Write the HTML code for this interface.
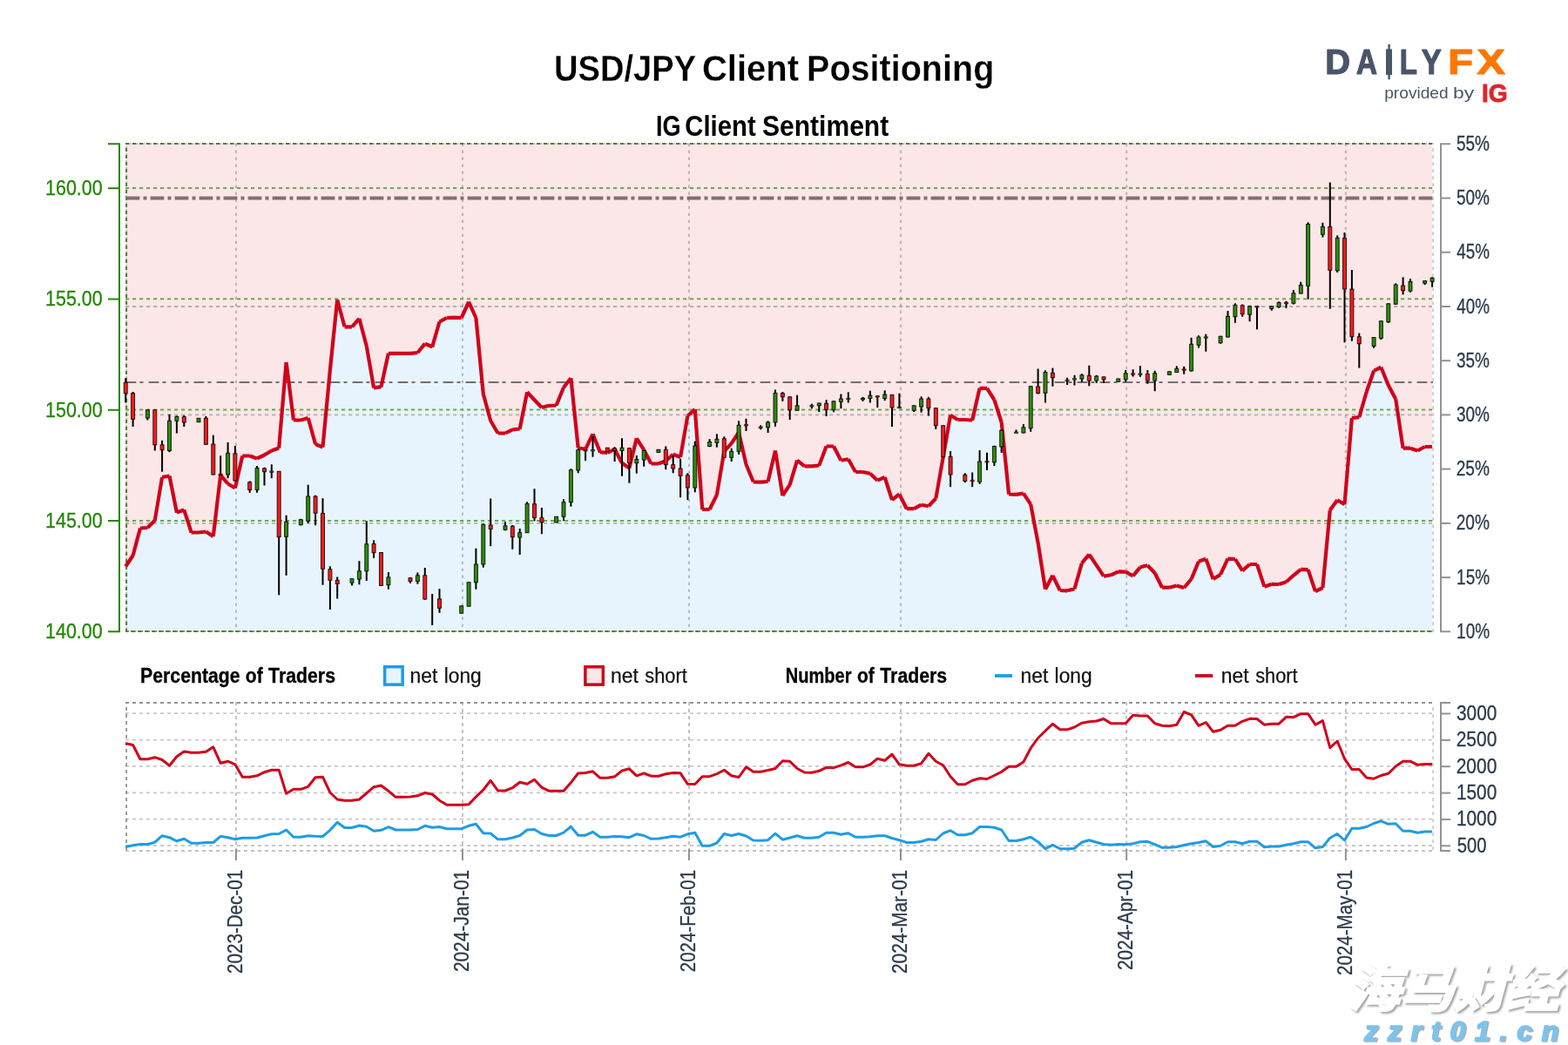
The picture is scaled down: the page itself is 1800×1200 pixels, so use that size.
<!DOCTYPE html>
<html lang="en"><head><meta charset="utf-8"><title>USD/JPY Client Positioning</title>
<style>html,body{margin:0;padding:0;background:#fff}body{width:1800px;height:1200px;overflow:hidden}svg{display:block}text{font-family:'Liberation Sans', sans-serif}.wm text{font-family:'Liberation Sans','Noto Sans CJK SC',sans-serif}</style></head><body>
<svg width="1800" height="1200" viewBox="0 0 1800 1200">
<rect width="1800" height="1200" fill="#fff"/>
<text y="92.6" font-size="43.1" font-weight="bold" fill="#000" stroke="#fff" stroke-width="0.3"><tspan x="636" textLength="162.4" lengthAdjust="spacingAndGlyphs">USD/JPY</tspan> <tspan x="805.9" textLength="111.1" lengthAdjust="spacingAndGlyphs">Client</tspan> <tspan x="926.1" textLength="215.2" lengthAdjust="spacingAndGlyphs">Positioning</tspan></text>
<text y="155.5" font-size="32.8" font-weight="bold" fill="#000"><tspan x="752.9" textLength="28.6" lengthAdjust="spacingAndGlyphs">IG</tspan> <tspan x="786.3" textLength="81.4" lengthAdjust="spacingAndGlyphs">Client</tspan> <tspan x="875" textLength="145.2" lengthAdjust="spacingAndGlyphs">Sentiment</tspan></text>
<text y="85.3" font-size="40" font-weight="bold" fill="#4a5568" stroke="#4a5568" stroke-width="1.2" stroke-linejoin="round"><tspan x="1521.3" textLength="28.8" lengthAdjust="spacingAndGlyphs">D</tspan><tspan x="1556.9" textLength="24" lengthAdjust="spacingAndGlyphs">A</tspan><tspan x="1589" textLength="11.1" lengthAdjust="spacingAndGlyphs">I</tspan><tspan x="1606.8" textLength="20.2" lengthAdjust="spacingAndGlyphs">L</tspan><tspan x="1631.8" textLength="23" lengthAdjust="spacingAndGlyphs">Y</tspan><tspan x="1662.2" textLength="28.9" lengthAdjust="spacingAndGlyphs" fill="#ff7700" stroke="#ff7700">F</tspan><tspan x="1695.4" textLength="32.4" lengthAdjust="spacingAndGlyphs" fill="#ff7700" stroke="#ff7700">X</tspan></text>
<rect x="1593.4" y="50.8" width="2.4" height="40.5" fill="#4a5568"/>
<rect x="1591.2" y="56.8" width="6.8" height="29.1" fill="#4a5568"/>
<text y="113" font-size="19" font-weight="normal" fill="#4a5568"><tspan x="1589.2" textLength="73.5" lengthAdjust="spacingAndGlyphs">provided</tspan> <tspan x="1668.1" textLength="24.2" lengthAdjust="spacingAndGlyphs">by</tspan></text>
<text x="1700.9" y="117" font-size="29.5" font-weight="bold" fill="#e0242b" textLength="29.8" lengthAdjust="spacingAndGlyphs" stroke="#e0242b" stroke-width="0.8">IG</text>
<defs><clipPath id="cp"><rect x="144.2" y="164.2" width="1500.0" height="560.8"/></clipPath></defs>
<rect x="144.2" y="164.2" width="1500.0" height="560.8" fill="#fbe6e8"/>
<polygon clip-path="url(#cp)" fill="#e8f4fd" points="142.2,725 144.2,650.5 152.6,638 161,606.5 169.4,606 177.8,597.5 186.1,548 194.5,546.5 202.9,588.5 211.3,585.5 219.7,611.5 228,611.5 236.4,610.5 244.8,616 253.2,545.5 261.6,555.5 269.9,560.5 278.3,523.5 286.7,523.5 295.1,526.5 303.5,522.5 311.8,517.5 320.2,514.5 328.6,416 337,482.5 345.3,482.5 353.7,480 362.1,510 370.5,513.5 378.9,425 387.2,344.2 395.6,375.3 404,375.3 412.4,365.8 420.8,397.5 429.1,445.3 437.5,444.2 445.9,405.8 454.3,405.8 462.7,405.8 471,405.8 479.4,405 487.8,394.7 496.2,398.3 504.5,369.5 512.9,365 521.3,364.7 529.7,365 538.1,346.7 546.4,365 554.8,452.5 563.2,483.3 571.6,497.5 580,497.5 588.3,493.3 596.7,492.5 605.1,450.3 613.5,459.2 621.9,468 630.2,465.8 638.6,465.5 647,445 655.4,434.2 663.7,514.2 672.1,515.8 680.5,498.3 688.9,519.2 697.3,520 705.6,515.8 714,531.7 722.4,537.5 730.8,503.3 739.2,516.7 747.5,532.5 755.9,532.5 764.3,529.2 772.7,521.7 781.1,525 789.4,477.5 797.8,470 806.2,585 814.6,585 822.9,568.3 831.3,518.3 839.7,509.2 848.1,496.5 856.5,533.3 864.8,553.3 873.2,553.7 881.6,553 890,517.5 898.4,569.2 906.7,556.7 915.1,528.7 923.5,535.3 931.9,535.3 940.3,534.5 948.6,512.5 957,512.5 965.4,528.7 973.8,527.2 982.1,542 990.5,542 998.9,543.7 1007.3,551.7 1015.7,548 1024,574.2 1032.4,567.5 1040.8,584.2 1049.2,584.2 1057.6,579.7 1065.9,581.3 1074.3,572.5 1082.7,525 1091.1,476.7 1099.5,482 1107.8,482 1116.2,482.5 1124.6,445.8 1133,445.8 1141.4,459.2 1149.7,485 1158.1,567.5 1166.5,567.8 1174.9,566.7 1183.2,579.2 1191.6,623.3 1200,676.7 1208.4,660.8 1216.8,678 1225.1,678.3 1233.5,676.3 1241.9,646.7 1250.3,636.7 1258.7,649.2 1267,661.7 1275.4,660.3 1283.8,656.3 1292.2,656.7 1300.6,661.3 1308.9,651.3 1317.3,649.2 1325.7,658 1334.1,674.7 1342.4,674.7 1350.8,672.5 1359.2,675 1367.6,665 1376,644.7 1384.3,641.7 1392.7,665 1401.1,659.7 1409.5,641.7 1417.9,642 1426.2,655.3 1434.6,648 1443,648 1451.4,673.7 1459.8,670.8 1468.1,671 1476.5,668.3 1484.9,660.8 1493.3,653.8 1501.6,654.2 1510,679.2 1518.4,675 1526.8,585.8 1535.2,574.2 1543.5,579.2 1551.9,480 1560.3,479.2 1568.7,450 1577.1,425.8 1585.4,421.7 1593.8,442.5 1602.2,458.3 1610.6,514.7 1619,514.7 1627.3,517.5 1635.7,513 1644.1,513 1646.1,725"/>
<defs><clipPath id="cpb"><rect x="144" y="164.1" width="1502" height="562.5"/></clipPath></defs>
<line x1="145.1" y1="160.3" x2="145.1" y2="725.5" stroke="rgba(120,120,120,0.45)" stroke-width="2" stroke-dasharray="3.5 4.5" clip-path="url(#cpb)"/>
<line x1="271" y1="164.5" x2="271" y2="725.5" stroke="rgba(120,120,120,0.45)" stroke-width="2" stroke-dasharray="3.5 4.5"/>
<line x1="531" y1="164.5" x2="531" y2="725.5" stroke="rgba(120,120,120,0.45)" stroke-width="2" stroke-dasharray="3.5 4.5"/>
<line x1="791" y1="164.5" x2="791" y2="725.5" stroke="rgba(120,120,120,0.45)" stroke-width="2" stroke-dasharray="3.5 4.5"/>
<line x1="1034" y1="164.5" x2="1034" y2="725.5" stroke="rgba(120,120,120,0.45)" stroke-width="2" stroke-dasharray="3.5 4.5"/>
<line x1="1293.2" y1="164.5" x2="1293.2" y2="725.5" stroke="rgba(120,120,120,0.45)" stroke-width="2" stroke-dasharray="3.5 4.5"/>
<line x1="1544.9" y1="164.5" x2="1544.9" y2="725.5" stroke="rgba(120,120,120,0.45)" stroke-width="2" stroke-dasharray="3.5 4.5"/>
<line x1="144" y1="600.9" x2="1645.2" y2="600.9" stroke="rgba(115,115,115,0.5)" stroke-width="1.9" stroke-dasharray="4.2 3.8"/>
<line x1="144" y1="476.4" x2="1645.2" y2="476.4" stroke="rgba(115,115,115,0.5)" stroke-width="1.9" stroke-dasharray="4.2 3.8"/>
<line x1="144" y1="352" x2="1645.2" y2="352" stroke="rgba(115,115,115,0.5)" stroke-width="1.9" stroke-dasharray="4.2 3.8"/>
<line x1="144" y1="725.1" x2="1645.2" y2="725.1" stroke="#6ca94f" stroke-width="2" stroke-dasharray="4.2 3.8"/>
<line x1="144" y1="597.9" x2="1645.2" y2="597.9" stroke="#6ca94f" stroke-width="2" stroke-dasharray="4.2 3.8"/>
<line x1="144" y1="470.6" x2="1645.2" y2="470.6" stroke="#6ca94f" stroke-width="2" stroke-dasharray="4.2 3.8"/>
<line x1="144" y1="343.3" x2="1645.2" y2="343.3" stroke="#6ca94f" stroke-width="2" stroke-dasharray="4.2 3.8"/>
<line x1="144" y1="216.1" x2="1645.2" y2="216.1" stroke="#6ca94f" stroke-width="2" stroke-dasharray="4.2 3.8"/>
<line x1="144" y1="165.1" x2="1645.2" y2="165.1" stroke="rgba(120,120,120,0.5)" stroke-width="1.9" stroke-dasharray="4 4" stroke-dashoffset="-2"/>
<line x1="144" y1="165.1" x2="1645.2" y2="165.1" stroke="#4f7d36" stroke-width="2" stroke-dasharray="4.1 3.9"/>
<line x1="142.2" y1="725.1" x2="1645.2" y2="725.1" stroke="#4f7d36" stroke-width="2" stroke-dasharray="4 4" clip-path="url(#cpb)"/>
<line x1="145.1" y1="725.9" x2="145.1" y2="164.2" stroke="#4f7d36" stroke-width="2" stroke-dasharray="3.9 4.1"/>
<line x1="1645.1" y1="725.9" x2="1645.1" y2="164.2" stroke="#cbcbcb" stroke-width="1.8" stroke-dasharray="3.6 4.4"/>
<line x1="144.6" y1="227.5" x2="1645" y2="227.5" stroke="#7b7174" stroke-width="4.1" stroke-dasharray="15.8 4.1 4 4.1"/>
<line x1="144.6" y1="439" x2="1645" y2="439" stroke="#746d6f" stroke-width="2.0" stroke-dasharray="11.8 4.1 4 6.1"/>
<path fill="none" stroke="#d0021b" stroke-width="4.2" stroke-linecap="butt" d="M144.2 650.5L152.6 638M152.6 638L161 606.5M161 606.5L169.4 606M169.4 606L177.8 597.5M177.8 597.5L186.1 548M186.1 548L194.5 546.5M194.5 546.5L202.9 588.5M202.9 588.5L211.3 585.5M211.3 585.5L219.7 611.5M219.7 611.5L228 611.5M228 611.5L236.4 610.5M236.4 610.5L244.8 616M244.8 616L253.2 545.5M253.2 545.5L261.6 555.5M261.6 555.5L269.9 560.5M269.9 560.5L278.3 523.5M278.3 523.5L286.7 523.5M286.7 523.5L295.1 526.5M295.1 526.5L303.5 522.5M303.5 522.5L311.8 517.5M311.8 517.5L320.2 514.5M320.2 514.5L328.6 416M328.6 416L337 482.5M337 482.5L345.3 482.5M345.3 482.5L353.7 480M353.7 480L362.1 510M362.1 510L370.5 513.5M370.5 513.5L378.9 425M378.9 425L387.2 344.2M387.2 344.2L395.6 375.3M395.6 375.3L404 375.3M404 375.3L412.4 365.8M412.4 365.8L420.8 397.5M420.8 397.5L429.1 445.3M429.1 445.3L437.5 444.2M437.5 444.2L445.9 405.8M445.9 405.8L454.3 405.8M454.3 405.8L462.7 405.8M462.7 405.8L471 405.8M471 405.8L479.4 405M479.4 405L487.8 394.7M487.8 394.7L496.2 398.3M496.2 398.3L504.5 369.5M504.5 369.5L512.9 365M512.9 365L521.3 364.7M521.3 364.7L529.7 365M529.7 365L538.1 346.7M538.1 346.7L546.4 365M546.4 365L554.8 452.5M554.8 452.5L563.2 483.3M563.2 483.3L571.6 497.5M571.6 497.5L580 497.5M580 497.5L588.3 493.3M588.3 493.3L596.7 492.5M596.7 492.5L605.1 450.3M605.1 450.3L613.5 459.2M613.5 459.2L621.9 468M621.9 468L630.2 465.8M630.2 465.8L638.6 465.5M638.6 465.5L647 445M647 445L655.4 434.2M655.4 434.2L663.7 514.2M663.7 514.2L672.1 515.8M672.1 515.8L680.5 498.3M680.5 498.3L688.9 519.2M688.9 519.2L697.3 520M697.3 520L705.6 515.8M705.6 515.8L714 531.7M714 531.7L722.4 537.5M722.4 537.5L730.8 503.3M730.8 503.3L739.2 516.7M739.2 516.7L747.5 532.5M747.5 532.5L755.9 532.5M755.9 532.5L764.3 529.2M764.3 529.2L772.7 521.7M772.7 521.7L781.1 525M781.1 525L789.4 477.5M789.4 477.5L797.8 470M797.8 470L806.2 585M806.2 585L814.6 585M814.6 585L822.9 568.3M822.9 568.3L831.3 518.3M831.3 518.3L839.7 509.2M839.7 509.2L848.1 496.5M848.1 496.5L856.5 533.3M856.5 533.3L864.8 553.3M864.8 553.3L873.2 553.7M873.2 553.7L881.6 553M881.6 553L890 517.5M890 517.5L898.4 569.2M898.4 569.2L906.7 556.7M906.7 556.7L915.1 528.7M915.1 528.7L923.5 535.3M923.5 535.3L931.9 535.3M931.9 535.3L940.3 534.5M940.3 534.5L948.6 512.5M948.6 512.5L957 512.5M957 512.5L965.4 528.7M965.4 528.7L973.8 527.2M973.8 527.2L982.1 542M982.1 542L990.5 542M990.5 542L998.9 543.7M998.9 543.7L1007.3 551.7M1007.3 551.7L1015.7 548M1015.7 548L1024 574.2M1024 574.2L1032.4 567.5M1032.4 567.5L1040.8 584.2M1040.8 584.2L1049.2 584.2M1049.2 584.2L1057.6 579.7M1057.6 579.7L1065.9 581.3M1065.9 581.3L1074.3 572.5M1074.3 572.5L1082.7 525M1082.7 525L1091.1 476.7M1091.1 476.7L1099.5 482M1099.5 482L1107.8 482M1107.8 482L1116.2 482.5M1116.2 482.5L1124.6 445.8M1124.6 445.8L1133 445.8M1133 445.8L1141.4 459.2M1141.4 459.2L1149.7 485M1149.7 485L1158.1 567.5M1158.1 567.5L1166.5 567.8M1166.5 567.8L1174.9 566.7M1174.9 566.7L1183.2 579.2M1183.2 579.2L1191.6 623.3M1191.6 623.3L1200 676.7M1200 676.7L1208.4 660.8M1208.4 660.8L1216.8 678M1216.8 678L1225.1 678.3M1225.1 678.3L1233.5 676.3M1233.5 676.3L1241.9 646.7M1241.9 646.7L1250.3 636.7M1250.3 636.7L1258.7 649.2M1258.7 649.2L1267 661.7M1267 661.7L1275.4 660.3M1275.4 660.3L1283.8 656.3M1283.8 656.3L1292.2 656.7M1292.2 656.7L1300.6 661.3M1300.6 661.3L1308.9 651.3M1308.9 651.3L1317.3 649.2M1317.3 649.2L1325.7 658M1325.7 658L1334.1 674.7M1334.1 674.7L1342.4 674.7M1342.4 674.7L1350.8 672.5M1350.8 672.5L1359.2 675M1359.2 675L1367.6 665M1367.6 665L1376 644.7M1376 644.7L1384.3 641.7M1384.3 641.7L1392.7 665M1392.7 665L1401.1 659.7M1401.1 659.7L1409.5 641.7M1409.5 641.7L1417.9 642M1417.9 642L1426.2 655.3M1426.2 655.3L1434.6 648M1434.6 648L1443 648M1443 648L1451.4 673.7M1451.4 673.7L1459.8 670.8M1459.8 670.8L1468.1 671M1468.1 671L1476.5 668.3M1476.5 668.3L1484.9 660.8M1484.9 660.8L1493.3 653.8M1493.3 653.8L1501.6 654.2M1501.6 654.2L1510 679.2M1510 679.2L1518.4 675M1518.4 675L1526.8 585.8M1526.8 585.8L1535.2 574.2M1535.2 574.2L1543.5 579.2M1543.5 579.2L1551.9 480M1551.9 480L1560.3 479.2M1560.3 479.2L1568.7 450M1568.7 450L1577.1 425.8M1577.1 425.8L1585.4 421.7M1585.4 421.7L1593.8 442.5M1593.8 442.5L1602.2 458.3M1602.2 458.3L1610.6 514.7M1610.6 514.7L1619 514.7M1619 514.7L1627.3 517.5M1627.3 517.5L1635.7 513M1635.7 513L1644.1 513"/>
<g stroke="#000" stroke-width="2">
<line x1="144.2" y1="434.2" x2="144.2" y2="462.5"/>
<line x1="152.6" y1="450" x2="152.6" y2="490"/>
<line x1="169.4" y1="470" x2="169.4" y2="482.5"/>
<line x1="177.8" y1="470.3" x2="177.8" y2="517.5"/>
<line x1="186.1" y1="505.8" x2="186.1" y2="541.7"/>
<line x1="194.5" y1="475.8" x2="194.5" y2="519.2"/>
<line x1="202.9" y1="477.5" x2="202.9" y2="497.5"/>
<line x1="211.3" y1="477" x2="211.3" y2="490"/>
<line x1="228" y1="480" x2="228" y2="485"/>
<line x1="236.4" y1="478" x2="236.4" y2="510.8"/>
<line x1="244.8" y1="499.7" x2="244.8" y2="545.3"/>
<line x1="253.2" y1="523.3" x2="253.2" y2="546"/>
<line x1="261.6" y1="508" x2="261.6" y2="549.2"/>
<line x1="269.9" y1="512" x2="269.9" y2="552.5"/>
<line x1="286.7" y1="552.5" x2="286.7" y2="565.8"/>
<line x1="295.1" y1="535" x2="295.1" y2="565.8"/>
<line x1="303.5" y1="536.7" x2="303.5" y2="557.5"/>
<line x1="311.8" y1="533.3" x2="311.8" y2="549.2"/>
<line x1="320.2" y1="541" x2="320.2" y2="683.3"/>
<line x1="328.6" y1="591.7" x2="328.6" y2="660.8"/>
<line x1="345.3" y1="595.8" x2="345.3" y2="603.3"/>
<line x1="353.7" y1="556.7" x2="353.7" y2="600.8"/>
<line x1="362.1" y1="568.7" x2="362.1" y2="603.3"/>
<line x1="370.5" y1="572.2" x2="370.5" y2="671.7"/>
<line x1="378.9" y1="650.3" x2="378.9" y2="700"/>
<line x1="387.2" y1="662.5" x2="387.2" y2="687.5"/>
<line x1="404" y1="664.2" x2="404" y2="672.5"/>
<line x1="412.4" y1="644.2" x2="412.4" y2="671.3"/>
<line x1="420.8" y1="598.3" x2="420.8" y2="667"/>
<line x1="429.1" y1="620.3" x2="429.1" y2="640.8"/>
<line x1="437.5" y1="634" x2="437.5" y2="673"/>
<line x1="445.9" y1="657" x2="445.9" y2="676.7"/>
<line x1="471" y1="663" x2="471" y2="669.7"/>
<line x1="479.4" y1="657.5" x2="479.4" y2="670.8"/>
<line x1="487.8" y1="652" x2="487.8" y2="688.7"/>
<line x1="496.2" y1="682" x2="496.2" y2="718"/>
<line x1="504.5" y1="676.2" x2="504.5" y2="703.7"/>
<line x1="529.7" y1="695.5" x2="529.7" y2="704.5"/>
<line x1="538.1" y1="668.5" x2="538.1" y2="696.5"/>
<line x1="546.4" y1="629.7" x2="546.4" y2="676.7"/>
<line x1="554.8" y1="601.3" x2="554.8" y2="651.7"/>
<line x1="563.2" y1="572.5" x2="563.2" y2="627.2"/>
<line x1="580" y1="599.2" x2="580" y2="609.2"/>
<line x1="588.3" y1="603" x2="588.3" y2="630.8"/>
<line x1="596.7" y1="607" x2="596.7" y2="637"/>
<line x1="605.1" y1="576.3" x2="605.1" y2="612"/>
<line x1="613.5" y1="561.3" x2="613.5" y2="598.3"/>
<line x1="621.9" y1="583" x2="621.9" y2="613.3"/>
<line x1="638.6" y1="593" x2="638.6" y2="600.3"/>
<line x1="647" y1="573.3" x2="647" y2="598.3"/>
<line x1="655.4" y1="538.3" x2="655.4" y2="581.7"/>
<line x1="663.7" y1="515.3" x2="663.7" y2="543.3"/>
<line x1="672.1" y1="516.7" x2="672.1" y2="529.2"/>
<line x1="680.5" y1="500.8" x2="680.5" y2="524.7"/>
<line x1="697.3" y1="514" x2="697.3" y2="518.5"/>
<line x1="705.6" y1="513.3" x2="705.6" y2="530"/>
<line x1="714" y1="503.3" x2="714" y2="546.7"/>
<line x1="722.4" y1="514.2" x2="722.4" y2="554.7"/>
<line x1="730.8" y1="523" x2="730.8" y2="543.7"/>
<line x1="739.2" y1="516.7" x2="739.2" y2="535.8"/>
<line x1="755.9" y1="516" x2="755.9" y2="520"/>
<line x1="764.3" y1="512.5" x2="764.3" y2="539.2"/>
<line x1="772.7" y1="523.3" x2="772.7" y2="543.3"/>
<line x1="781.1" y1="526.7" x2="781.1" y2="571.3"/>
<line x1="789.4" y1="543.3" x2="789.4" y2="574.2"/>
<line x1="797.8" y1="506.7" x2="797.8" y2="565.3"/>
<line x1="814.6" y1="504.2" x2="814.6" y2="513.3"/>
<line x1="822.9" y1="498.3" x2="822.9" y2="513.7"/>
<line x1="831.3" y1="501.3" x2="831.3" y2="525.8"/>
<line x1="839.7" y1="514.7" x2="839.7" y2="530"/>
<line x1="848.1" y1="483.3" x2="848.1" y2="522"/>
<line x1="856.5" y1="480.8" x2="856.5" y2="495"/>
<line x1="873.2" y1="488.3" x2="873.2" y2="493.3"/>
<line x1="881.6" y1="483.3" x2="881.6" y2="497"/>
<line x1="890" y1="447.5" x2="890" y2="490"/>
<line x1="898.4" y1="450" x2="898.4" y2="460.8"/>
<line x1="906.7" y1="455" x2="906.7" y2="482"/>
<line x1="915.1" y1="453.7" x2="915.1" y2="471.7"/>
<line x1="931.9" y1="463.7" x2="931.9" y2="469.2"/>
<line x1="940.3" y1="462.5" x2="940.3" y2="473"/>
<line x1="948.6" y1="459.2" x2="948.6" y2="478"/>
<line x1="957" y1="460.3" x2="957" y2="473.3"/>
<line x1="965.4" y1="452.5" x2="965.4" y2="469.2"/>
<line x1="973.8" y1="450.3" x2="973.8" y2="462.5"/>
<line x1="990.5" y1="455.9" x2="990.5" y2="460.8"/>
<line x1="998.9" y1="448.7" x2="998.9" y2="462.5"/>
<line x1="1007.3" y1="454.2" x2="1007.3" y2="468"/>
<line x1="1015.7" y1="448.3" x2="1015.7" y2="460"/>
<line x1="1024" y1="453" x2="1024" y2="490"/>
<line x1="1032.4" y1="451.7" x2="1032.4" y2="468.7"/>
<line x1="1049.2" y1="465.5" x2="1049.2" y2="473"/>
<line x1="1057.6" y1="455.3" x2="1057.6" y2="473.7"/>
<line x1="1065.9" y1="455.8" x2="1065.9" y2="477.5"/>
<line x1="1074.3" y1="468" x2="1074.3" y2="492.8"/>
<line x1="1082.7" y1="488.3" x2="1082.7" y2="525"/>
<line x1="1091.1" y1="518" x2="1091.1" y2="559.2"/>
<line x1="1107.8" y1="543.3" x2="1107.8" y2="554.2"/>
<line x1="1116.2" y1="542.5" x2="1116.2" y2="559.2"/>
<line x1="1124.6" y1="517" x2="1124.6" y2="555.8"/>
<line x1="1133" y1="519.7" x2="1133" y2="540"/>
<line x1="1141.4" y1="511.7" x2="1141.4" y2="535"/>
<line x1="1149.7" y1="493.3" x2="1149.7" y2="520"/>
<line x1="1166.5" y1="493.5" x2="1166.5" y2="497"/>
<line x1="1174.9" y1="487" x2="1174.9" y2="497.5"/>
<line x1="1183.2" y1="443" x2="1183.2" y2="495.8"/>
<line x1="1191.6" y1="423.5" x2="1191.6" y2="452.5"/>
<line x1="1200" y1="425.2" x2="1200" y2="462.5"/>
<line x1="1208.4" y1="422.6" x2="1208.4" y2="443.7"/>
<line x1="1225.1" y1="433.7" x2="1225.1" y2="442"/>
<line x1="1233.5" y1="430.8" x2="1233.5" y2="442.5"/>
<line x1="1241.9" y1="429.2" x2="1241.9" y2="438.7"/>
<line x1="1250.3" y1="419.7" x2="1250.3" y2="443.3"/>
<line x1="1258.7" y1="430.8" x2="1258.7" y2="440"/>
<line x1="1267" y1="432.5" x2="1267" y2="439.7"/>
<line x1="1283.8" y1="434.7" x2="1283.8" y2="438.6"/>
<line x1="1292.2" y1="425" x2="1292.2" y2="438.3"/>
<line x1="1300.6" y1="424.2" x2="1300.6" y2="432.5"/>
<line x1="1308.9" y1="420" x2="1308.9" y2="432.8"/>
<line x1="1317.3" y1="425" x2="1317.3" y2="440.8"/>
<line x1="1325.7" y1="425.8" x2="1325.7" y2="449.2"/>
<line x1="1342.4" y1="426.4" x2="1342.4" y2="430.6"/>
<line x1="1350.8" y1="420.3" x2="1350.8" y2="428"/>
<line x1="1359.2" y1="420.8" x2="1359.2" y2="429.7"/>
<line x1="1367.6" y1="387.8" x2="1367.6" y2="426.7"/>
<line x1="1376" y1="385.3" x2="1376" y2="399.5"/>
<line x1="1384.3" y1="383.7" x2="1384.3" y2="403.7"/>
<line x1="1401.1" y1="385.8" x2="1401.1" y2="394.7"/>
<line x1="1409.5" y1="357" x2="1409.5" y2="387.5"/>
<line x1="1417.9" y1="348.3" x2="1417.9" y2="370.8"/>
<line x1="1426.2" y1="349.5" x2="1426.2" y2="363.7"/>
<line x1="1434.6" y1="350.8" x2="1434.6" y2="369.2"/>
<line x1="1443" y1="351.3" x2="1443" y2="378.3"/>
<line x1="1459.8" y1="351.3" x2="1459.8" y2="356.7"/>
<line x1="1468.1" y1="346.3" x2="1468.1" y2="353.7"/>
<line x1="1476.5" y1="345.8" x2="1476.5" y2="353.7"/>
<line x1="1484.9" y1="333" x2="1484.9" y2="349.5"/>
<line x1="1493.3" y1="323.7" x2="1493.3" y2="337.5"/>
<line x1="1501.6" y1="255.3" x2="1501.6" y2="343.7"/>
<line x1="1518.4" y1="255.8" x2="1518.4" y2="272.5"/>
<line x1="1526.8" y1="209.5" x2="1526.8" y2="354.7"/>
<line x1="1535.2" y1="270.3" x2="1535.2" y2="312.8"/>
<line x1="1543.5" y1="267" x2="1543.5" y2="393.3"/>
<line x1="1551.9" y1="310" x2="1551.9" y2="391.7"/>
<line x1="1560.3" y1="382.5" x2="1560.3" y2="422.5"/>
<line x1="1577.1" y1="387" x2="1577.1" y2="399.7"/>
<line x1="1585.4" y1="368.3" x2="1585.4" y2="390"/>
<line x1="1593.8" y1="348.3" x2="1593.8" y2="370.8"/>
<line x1="1602.2" y1="325.3" x2="1602.2" y2="350"/>
<line x1="1610.6" y1="318.3" x2="1610.6" y2="338.3"/>
<line x1="1619" y1="320" x2="1619" y2="335.8"/>
<line x1="1635.7" y1="322.2" x2="1635.7" y2="327"/>
<line x1="1644.1" y1="318.3" x2="1644.1" y2="329.7"/>
</g>
<g stroke="#000" stroke-opacity="0.82" stroke-width="1">
<rect x="142.2" y="439.2" width="4" height="12.5" fill="#ff1a1a"/>
<rect x="150.6" y="451.7" width="4" height="29.6" fill="#ff1a1a"/>
<rect x="167.4" y="470.8" width="4" height="9.2" fill="#2d8c0a"/>
<rect x="175.8" y="470.8" width="4" height="40" fill="#ff1a1a"/>
<rect x="184.1" y="510.8" width="4" height="5.9" fill="#ff1a1a"/>
<rect x="192.5" y="483.3" width="4" height="34.2" fill="#2d8c0a"/>
<rect x="200.9" y="478.3" width="4" height="5" fill="#2d8c0a"/>
<rect x="209.3" y="478.7" width="4" height="6.3" fill="#ff1a1a"/>
<rect x="226" y="480.3" width="4" height="4.4" fill="#2d8c0a"/>
<rect x="234.4" y="480.3" width="4" height="30" fill="#ff1a1a"/>
<rect x="242.8" y="510" width="4" height="35" fill="#ff1a1a"/>
<rect x="251.1" y="544.3" width="4.2" height="1.4" fill="#e01515" stroke-opacity="0.6"/>
<rect x="259.6" y="520.3" width="4" height="24.7" fill="#2d8c0a"/>
<rect x="267.9" y="520.8" width="4" height="31.2" fill="#ff1a1a"/>
<rect x="284.7" y="553.7" width="4" height="8.8" fill="#ff1a1a"/>
<rect x="293.1" y="537.5" width="4" height="25" fill="#2d8c0a"/>
<rect x="301.5" y="538" width="4" height="3.7" fill="#ff1a1a"/>
<rect x="309.7" y="541" width="4.2" height="1.4" fill="#e01515" stroke-opacity="0.6"/>
<rect x="318.2" y="541.3" width="4" height="75.4" fill="#ff1a1a"/>
<rect x="326.6" y="599.2" width="4" height="17.1" fill="#2d8c0a"/>
<rect x="343.3" y="596.7" width="4" height="6.1" fill="#2d8c0a"/>
<rect x="351.7" y="570" width="4" height="28.3" fill="#2d8c0a"/>
<rect x="360.1" y="570" width="4" height="19.2" fill="#ff1a1a"/>
<rect x="368.5" y="589.5" width="4" height="63.8" fill="#ff1a1a"/>
<rect x="376.9" y="653.7" width="4" height="12.6" fill="#ff1a1a"/>
<rect x="385.2" y="666.3" width="4" height="4.2" fill="#ff1a1a"/>
<rect x="402" y="664.7" width="4" height="4.5" fill="#2d8c0a"/>
<rect x="410.4" y="655.8" width="4" height="9.2" fill="#2d8c0a"/>
<rect x="418.8" y="624.7" width="4" height="31.1" fill="#2d8c0a"/>
<rect x="427.1" y="624.5" width="4" height="10.2" fill="#ff1a1a"/>
<rect x="435.5" y="634.5" width="4" height="38" fill="#ff1a1a"/>
<rect x="443.9" y="662.8" width="4" height="8.9" fill="#2d8c0a"/>
<rect x="469" y="663.7" width="4" height="3.8" fill="#ff1a1a"/>
<rect x="477.4" y="660.8" width="4" height="6.7" fill="#2d8c0a"/>
<rect x="485.8" y="660.8" width="4" height="27.2" fill="#ff1a1a"/>
<rect x="502.5" y="687.8" width="4" height="10.5" fill="#ff1a1a"/>
<rect x="527.7" y="695.8" width="4" height="8.4" fill="#2d8c0a"/>
<rect x="536.1" y="668.7" width="4" height="27.5" fill="#2d8c0a"/>
<rect x="544.4" y="648" width="4" height="20.8" fill="#2d8c0a"/>
<rect x="552.8" y="602.5" width="4" height="45.5" fill="#2d8c0a"/>
<rect x="561.2" y="603" width="4" height="4.5" fill="#ff1a1a"/>
<rect x="578" y="603.8" width="4" height="4.5" fill="#2d8c0a"/>
<rect x="586.3" y="604.2" width="4" height="12.5" fill="#ff1a1a"/>
<rect x="594.7" y="611.7" width="4" height="5.3" fill="#2d8c0a"/>
<rect x="603.1" y="578.3" width="4" height="33.4" fill="#2d8c0a"/>
<rect x="611.5" y="578.7" width="4" height="15.8" fill="#ff1a1a"/>
<rect x="619.9" y="594.7" width="4" height="5" fill="#ff1a1a"/>
<rect x="636.6" y="593.3" width="4" height="6.7" fill="#2d8c0a"/>
<rect x="645" y="576.7" width="4" height="16.6" fill="#2d8c0a"/>
<rect x="653.4" y="539.7" width="4" height="37" fill="#2d8c0a"/>
<rect x="661.7" y="516.7" width="4" height="23.3" fill="#2d8c0a"/>
<rect x="670" y="516.5" width="4.2" height="1.4" fill="#e01515" stroke-opacity="0.6"/>
<rect x="678.4" y="516.5" width="4.2" height="1.4" fill="#2d8c0a" stroke-opacity="0.6"/>
<rect x="695.3" y="514.2" width="4" height="4.1" fill="#ff1a1a"/>
<rect x="703.6" y="515" width="4" height="2.5" fill="#ff1a1a"/>
<rect x="712" y="514.2" width="4" height="3.3" fill="#2d8c0a"/>
<rect x="720.4" y="514.7" width="4" height="17" fill="#ff1a1a"/>
<rect x="728.8" y="527.5" width="4" height="4.2" fill="#2d8c0a"/>
<rect x="737.2" y="517.5" width="4" height="10.5" fill="#2d8c0a"/>
<rect x="753.9" y="516.3" width="4" height="3.2" fill="#2d8c0a"/>
<rect x="762.3" y="516.3" width="4" height="17.4" fill="#ff1a1a"/>
<rect x="770.7" y="533.7" width="4" height="4.3" fill="#ff1a1a"/>
<rect x="779.1" y="538" width="4" height="8.3" fill="#ff1a1a"/>
<rect x="787.4" y="545.8" width="4" height="14.2" fill="#ff1a1a"/>
<rect x="795.8" y="512" width="4" height="48" fill="#2d8c0a"/>
<rect x="812.6" y="507.5" width="4" height="5" fill="#2d8c0a"/>
<rect x="820.9" y="504.2" width="4" height="4.1" fill="#2d8c0a"/>
<rect x="829.3" y="503.8" width="4" height="21.5" fill="#ff1a1a"/>
<rect x="837.7" y="518.3" width="4" height="7" fill="#2d8c0a"/>
<rect x="846.1" y="488.3" width="4" height="30" fill="#2d8c0a"/>
<rect x="854.4" y="487.6" width="4.2" height="1.4" fill="#e01515" stroke-opacity="0.6"/>
<rect x="871.1" y="490.1" width="4.2" height="1.4" fill="#2d8c0a" stroke-opacity="0.6"/>
<rect x="879.6" y="485" width="4" height="5.8" fill="#2d8c0a"/>
<rect x="888" y="451.3" width="4" height="33.7" fill="#2d8c0a"/>
<rect x="896.4" y="451.7" width="4" height="4.1" fill="#ff1a1a"/>
<rect x="904.7" y="455.8" width="4" height="15" fill="#ff1a1a"/>
<rect x="913.1" y="465.8" width="4" height="5.4" fill="#2d8c0a"/>
<rect x="929.8" y="465.6" width="4.2" height="1.4" fill="#2d8c0a" stroke-opacity="0.6"/>
<rect x="938.3" y="463" width="4" height="2.8" fill="#2d8c0a"/>
<rect x="946.6" y="463.3" width="4" height="7" fill="#ff1a1a"/>
<rect x="955" y="460.8" width="4" height="10" fill="#2d8c0a"/>
<rect x="963.4" y="458" width="4" height="3.3" fill="#2d8c0a"/>
<rect x="971.7" y="457.3" width="4.2" height="1.4" fill="#2d8c0a" stroke-opacity="0.6"/>
<rect x="988.5" y="457.3" width="4" height="1.5" fill="#2d8c0a"/>
<rect x="996.9" y="454.2" width="4" height="3.3" fill="#2d8c0a"/>
<rect x="1005.2" y="454.6" width="4.2" height="1.4" fill="#e01515" stroke-opacity="0.6"/>
<rect x="1013.7" y="453" width="4" height="4.5" fill="#2d8c0a"/>
<rect x="1022" y="453.3" width="4" height="14.7" fill="#ff1a1a"/>
<rect x="1030.3" y="467.3" width="4.2" height="1.4" fill="#2d8c0a" stroke-opacity="0.6"/>
<rect x="1047.2" y="465.8" width="4" height="5.5" fill="#2d8c0a"/>
<rect x="1055.6" y="458" width="4" height="9" fill="#2d8c0a"/>
<rect x="1063.9" y="458" width="4" height="10.7" fill="#ff1a1a"/>
<rect x="1072.3" y="468.7" width="4" height="20" fill="#ff1a1a"/>
<rect x="1080.7" y="488.7" width="4" height="36" fill="#ff1a1a"/>
<rect x="1089.1" y="524.2" width="4" height="20.8" fill="#ff1a1a"/>
<rect x="1105.8" y="545.3" width="4" height="7.2" fill="#ff1a1a"/>
<rect x="1114.1" y="551.3" width="4.2" height="1.4" fill="#e01515" stroke-opacity="0.6"/>
<rect x="1122.6" y="530" width="4" height="23.3" fill="#2d8c0a"/>
<rect x="1130.9" y="529.6" width="4.2" height="1.4" fill="#e01515" stroke-opacity="0.6"/>
<rect x="1139.4" y="512.5" width="4" height="18.3" fill="#2d8c0a"/>
<rect x="1147.7" y="494.2" width="4" height="18.8" fill="#2d8c0a"/>
<rect x="1164.4" y="496.1" width="4.2" height="1.4" fill="#2d8c0a" stroke-opacity="0.6"/>
<rect x="1172.9" y="490.8" width="4" height="6.2" fill="#2d8c0a"/>
<rect x="1181.2" y="443.7" width="4" height="48" fill="#2d8c0a"/>
<rect x="1189.6" y="444" width="4" height="7.5" fill="#ff1a1a"/>
<rect x="1198" y="427.5" width="4" height="23.8" fill="#2d8c0a"/>
<rect x="1206.4" y="428.3" width="4" height="5.4" fill="#ff1a1a"/>
<rect x="1223" y="436.3" width="4.2" height="1.4" fill="#2d8c0a" stroke-opacity="0.6"/>
<rect x="1231.4" y="434.6" width="4.2" height="1.4" fill="#2d8c0a" stroke-opacity="0.6"/>
<rect x="1239.9" y="430.8" width="4" height="4.2" fill="#2d8c0a"/>
<rect x="1248.3" y="431.3" width="4" height="5.7" fill="#ff1a1a"/>
<rect x="1256.7" y="432" width="4" height="5" fill="#2d8c0a"/>
<rect x="1265" y="432.8" width="4" height="3" fill="#ff1a1a"/>
<rect x="1281.8" y="435" width="4" height="3.3" fill="#2d8c0a"/>
<rect x="1290.2" y="428.7" width="4" height="7.1" fill="#2d8c0a"/>
<rect x="1298.5" y="428.8" width="4.2" height="1.4" fill="#e01515" stroke-opacity="0.6"/>
<rect x="1306.8" y="429" width="4.2" height="1.4" fill="#2d8c0a" stroke-opacity="0.6"/>
<rect x="1315.3" y="429.5" width="4" height="7.5" fill="#ff1a1a"/>
<rect x="1323.7" y="428.7" width="4" height="8.3" fill="#2d8c0a"/>
<rect x="1340.4" y="426.7" width="4" height="3.6" fill="#2d8c0a"/>
<rect x="1348.8" y="423.3" width="4" height="4.2" fill="#2d8c0a"/>
<rect x="1357.1" y="423.8" width="4.2" height="1.4" fill="#e01515" stroke-opacity="0.6"/>
<rect x="1365.6" y="395.3" width="4" height="30.5" fill="#2d8c0a"/>
<rect x="1374" y="387" width="4" height="9.3" fill="#2d8c0a"/>
<rect x="1382.2" y="386.8" width="4.2" height="1.4" fill="#2d8c0a" stroke-opacity="0.6"/>
<rect x="1399.1" y="386.2" width="4" height="7.5" fill="#2d8c0a"/>
<rect x="1407.5" y="363.3" width="4" height="23.7" fill="#2d8c0a"/>
<rect x="1415.9" y="350.3" width="4" height="13.4" fill="#2d8c0a"/>
<rect x="1424.2" y="350.8" width="4" height="10" fill="#ff1a1a"/>
<rect x="1432.6" y="351.7" width="4" height="9.5" fill="#2d8c0a"/>
<rect x="1440.9" y="351.5" width="4.2" height="1.4" fill="#e01515" stroke-opacity="0.6"/>
<rect x="1457.8" y="351.6" width="4" height="2.8" fill="#2d8c0a"/>
<rect x="1466.1" y="347.5" width="4" height="5" fill="#2d8c0a"/>
<rect x="1474.4" y="347.3" width="4.2" height="1.4" fill="#e01515" stroke-opacity="0.6"/>
<rect x="1482.9" y="336.7" width="4" height="11.6" fill="#2d8c0a"/>
<rect x="1491.3" y="327.5" width="4" height="9.5" fill="#2d8c0a"/>
<rect x="1499.6" y="257.5" width="4" height="70.8" fill="#2d8c0a"/>
<rect x="1516.4" y="260.3" width="4" height="8.9" fill="#2d8c0a"/>
<rect x="1524.8" y="260.3" width="4" height="50" fill="#ff1a1a"/>
<rect x="1533.2" y="273.3" width="4" height="37.5" fill="#2d8c0a"/>
<rect x="1541.5" y="273.3" width="4" height="58.7" fill="#ff1a1a"/>
<rect x="1549.9" y="332" width="4" height="54.7" fill="#ff1a1a"/>
<rect x="1558.3" y="386.7" width="4" height="8" fill="#ff1a1a"/>
<rect x="1575.1" y="387.5" width="4" height="10" fill="#2d8c0a"/>
<rect x="1583.4" y="368.7" width="4" height="19.6" fill="#2d8c0a"/>
<rect x="1591.8" y="348.8" width="4" height="20.9" fill="#2d8c0a"/>
<rect x="1600.2" y="327" width="4" height="22.2" fill="#2d8c0a"/>
<rect x="1608.6" y="328" width="4" height="5.7" fill="#ff1a1a"/>
<rect x="1617" y="323.3" width="4" height="10.9" fill="#2d8c0a"/>
<rect x="1633.7" y="322.5" width="4" height="2.7" fill="#2d8c0a"/>
<rect x="1642.1" y="319.2" width="4" height="4.1" fill="#2d8c0a"/>
</g>
<g stroke="#278606" stroke-width="2" fill="none">
<path d="M124 165.3 H137 V725.3 H124"/>
<path d="M124 598 H137"/>
<path d="M124 470.8 H137"/>
<path d="M124 343.5 H137"/>
<path d="M124 216.2 H137"/>
</g>
<text x="52" y="733" font-size="23.7" font-weight="normal" fill="#278606" textLength="65.7" lengthAdjust="spacingAndGlyphs" stroke="#278606" stroke-width="0.3">140.00</text>
<text x="52" y="605.7" font-size="23.7" font-weight="normal" fill="#278606" textLength="65.7" lengthAdjust="spacingAndGlyphs" stroke="#278606" stroke-width="0.3">145.00</text>
<text x="52" y="478.5" font-size="23.7" font-weight="normal" fill="#278606" textLength="65.7" lengthAdjust="spacingAndGlyphs" stroke="#278606" stroke-width="0.3">150.00</text>
<text x="52" y="351.2" font-size="23.7" font-weight="normal" fill="#278606" textLength="65.7" lengthAdjust="spacingAndGlyphs" stroke="#278606" stroke-width="0.3">155.00</text>
<text x="52" y="223.9" font-size="23.7" font-weight="normal" fill="#278606" textLength="65.7" lengthAdjust="spacingAndGlyphs" stroke="#278606" stroke-width="0.3">160.00</text>
<g stroke="#929292" stroke-width="2" fill="none">
<path d="M1665 165.3 H1654 V725.3 H1665"/>
<path d="M1654 663.1 H1665"/>
<path d="M1654 600.9 H1665"/>
<path d="M1654 538.6 H1665"/>
<path d="M1654 476.4 H1665"/>
<path d="M1654 414.2 H1665"/>
<path d="M1654 352 H1665"/>
<path d="M1654 289.7 H1665"/>
<path d="M1654 227.5 H1665"/>
</g>
<text x="1672.1" y="732.8" font-size="23.7" font-weight="normal" fill="#2c3a4b" textLength="38" lengthAdjust="spacingAndGlyphs" stroke="#2c3a4b" stroke-width="0.3">10%</text>
<text x="1672.1" y="670.6" font-size="23.7" font-weight="normal" fill="#2c3a4b" textLength="38" lengthAdjust="spacingAndGlyphs" stroke="#2c3a4b" stroke-width="0.3">15%</text>
<text x="1671.7" y="608.4" font-size="23.7" font-weight="normal" fill="#2c3a4b" textLength="38.3" lengthAdjust="spacingAndGlyphs" stroke="#2c3a4b" stroke-width="0.3">20%</text>
<text x="1671.7" y="546.1" font-size="23.7" font-weight="normal" fill="#2c3a4b" textLength="38.3" lengthAdjust="spacingAndGlyphs" stroke="#2c3a4b" stroke-width="0.3">25%</text>
<text x="1672" y="483.9" font-size="23.7" font-weight="normal" fill="#2c3a4b" textLength="38" lengthAdjust="spacingAndGlyphs" stroke="#2c3a4b" stroke-width="0.3">30%</text>
<text x="1672" y="421.7" font-size="23.7" font-weight="normal" fill="#2c3a4b" textLength="38" lengthAdjust="spacingAndGlyphs" stroke="#2c3a4b" stroke-width="0.3">35%</text>
<text x="1672.3" y="359.5" font-size="23.7" font-weight="normal" fill="#2c3a4b" textLength="37.7" lengthAdjust="spacingAndGlyphs" stroke="#2c3a4b" stroke-width="0.3">40%</text>
<text x="1672.3" y="297.2" font-size="23.7" font-weight="normal" fill="#2c3a4b" textLength="37.7" lengthAdjust="spacingAndGlyphs" stroke="#2c3a4b" stroke-width="0.3">45%</text>
<text x="1671.9" y="235" font-size="23.7" font-weight="normal" fill="#2c3a4b" textLength="38.1" lengthAdjust="spacingAndGlyphs" stroke="#2c3a4b" stroke-width="0.3">50%</text>
<text x="1671.9" y="172.8" font-size="23.7" font-weight="normal" fill="#2c3a4b" textLength="38.1" lengthAdjust="spacingAndGlyphs" stroke="#2c3a4b" stroke-width="0.3">55%</text>
<text y="784.1" font-size="23" font-weight="bold" fill="#000" stroke="#000" stroke-width="0.3"><tspan x="161.1" textLength="114.5" lengthAdjust="spacingAndGlyphs">Percentage</tspan> <tspan x="281.8" textLength="19.9" lengthAdjust="spacingAndGlyphs">of</tspan> <tspan x="308.1" textLength="76.9" lengthAdjust="spacingAndGlyphs">Traders</tspan></text>
<text y="784.1" font-size="24.2" font-weight="normal" fill="#111" stroke="#111" stroke-width="0.25"><tspan x="470.6" textLength="31.9" lengthAdjust="spacingAndGlyphs">net</tspan> <tspan x="509.7" textLength="43" lengthAdjust="spacingAndGlyphs">long</tspan></text>
<text y="784.1" font-size="24.2" font-weight="normal" fill="#111" stroke="#111" stroke-width="0.25"><tspan x="700.9" textLength="31.9" lengthAdjust="spacingAndGlyphs">net</tspan> <tspan x="740.3" textLength="48.5" lengthAdjust="spacingAndGlyphs">short</tspan></text>
<text y="784.1" font-size="23" font-weight="bold" fill="#000" stroke="#000" stroke-width="0.3"><tspan x="901.7" textLength="75.8" lengthAdjust="spacingAndGlyphs">Number</tspan> <tspan x="984" textLength="19.8" lengthAdjust="spacingAndGlyphs">of</tspan> <tspan x="1010.3" textLength="76.8" lengthAdjust="spacingAndGlyphs">Traders</tspan></text>
<text y="784.1" font-size="24.2" font-weight="normal" fill="#111" stroke="#111" stroke-width="0.25"><tspan x="1171.5" textLength="31.9" lengthAdjust="spacingAndGlyphs">net</tspan> <tspan x="1210.6" textLength="43" lengthAdjust="spacingAndGlyphs">long</tspan></text>
<text y="784.1" font-size="24.2" font-weight="normal" fill="#111" stroke="#111" stroke-width="0.25"><tspan x="1401.8" textLength="31.9" lengthAdjust="spacingAndGlyphs">net</tspan> <tspan x="1441.2" textLength="48.5" lengthAdjust="spacingAndGlyphs">short</tspan></text>
<rect x="441.65" y="765.75" width="20.5" height="20.4" fill="#e8f4fd" stroke="#1f9ce4" stroke-width="3.5"/>
<rect x="671.85" y="765.75" width="20.5" height="20.4" fill="#fbe6e8" stroke="#d0021b" stroke-width="3.5"/>
<line x1="1142" y1="776" x2="1162" y2="776" stroke="#1f9ce4" stroke-width="3.8"/>
<line x1="1372" y1="776" x2="1392.3" y2="776" stroke="#d0021b" stroke-width="3.8"/>
<line x1="144" y1="971" x2="1645.5" y2="971" stroke="#c8c8c8" stroke-width="1.8" stroke-dasharray="4 4"/>
<line x1="144" y1="940.6" x2="1645.5" y2="940.6" stroke="#c8c8c8" stroke-width="1.8" stroke-dasharray="4 4"/>
<line x1="144" y1="910.3" x2="1645.5" y2="910.3" stroke="#c8c8c8" stroke-width="1.8" stroke-dasharray="4 4"/>
<line x1="144" y1="879.9" x2="1645.5" y2="879.9" stroke="#c8c8c8" stroke-width="1.8" stroke-dasharray="4 4"/>
<line x1="144" y1="849.6" x2="1645.5" y2="849.6" stroke="#c8c8c8" stroke-width="1.8" stroke-dasharray="4 4"/>
<line x1="144" y1="819.2" x2="1645.5" y2="819.2" stroke="#c8c8c8" stroke-width="1.8" stroke-dasharray="4 4"/>
<line x1="271" y1="806" x2="271" y2="977" stroke="#c2c2c2" stroke-width="2" stroke-dasharray="4 4"/>
<line x1="531" y1="806" x2="531" y2="977" stroke="#c2c2c2" stroke-width="2" stroke-dasharray="4 4"/>
<line x1="791" y1="806" x2="791" y2="977" stroke="#c2c2c2" stroke-width="2" stroke-dasharray="4 4"/>
<line x1="1034" y1="806" x2="1034" y2="977" stroke="#c2c2c2" stroke-width="2" stroke-dasharray="4 4"/>
<line x1="1293.2" y1="806" x2="1293.2" y2="977" stroke="#c2c2c2" stroke-width="2" stroke-dasharray="4 4"/>
<line x1="1544.9" y1="806" x2="1544.9" y2="977" stroke="#c2c2c2" stroke-width="2" stroke-dasharray="4 4"/>
<line x1="144" y1="807" x2="1645.5" y2="807" stroke="#939393" stroke-width="1.8" stroke-dasharray="4 4"/>
<line x1="144" y1="977" x2="1645.5" y2="977" stroke="#c2c2c2" stroke-width="1.8" stroke-dasharray="4 4"/>
<line x1="145.1" y1="975.9" x2="145.1" y2="808" stroke="#939393" stroke-width="1.8" stroke-dasharray="4 4"/>
<line x1="1645.1" y1="975.9" x2="1645.1" y2="808" stroke="#cbcbcb" stroke-width="1.8" stroke-dasharray="3.6 4.4"/>
<polyline fill="none" stroke="#d0021b" stroke-width="3" stroke-linejoin="round" points="144.2,853.7 152.6,855.5 161,871.7 169.4,871.7 177.8,869.7 186.1,872.5 194.5,879.2 202.9,868.7 211.3,863 219.7,864.2 228,864.2 236.4,863.3 244.8,857.8 253.2,876.3 261.6,874.2 269.9,877.8 278.3,892.2 286.7,892.2 295.1,890.8 303.5,886.7 311.8,884.2 320.2,884.2 328.6,911.3 337,906.3 345.3,906.3 353.7,903.3 362.1,892.8 370.5,892.2 378.9,910 387.2,918 395.6,919.2 404,919.2 412.4,918 420.8,910.8 429.1,903.7 437.5,902 445.9,908.3 454.3,915.3 462.7,915.3 471,915 479.4,913.8 487.8,910.5 496.2,912 504.5,919.2 512.9,924.2 521.3,924.2 529.7,924.2 538.1,923.8 546.4,915 554.8,907 563.2,896.3 571.6,908 580,908 588.3,904.7 596.7,898.3 605.1,900.3 613.5,895.3 621.9,904.2 630.2,908.3 638.6,908.3 647,908.3 655.4,898.7 663.7,888 672.1,887.5 680.5,885.8 688.9,893.3 697.3,893.3 705.6,891.8 714,885 722.4,882.8 730.8,890.8 739.2,888 747.5,891.2 755.9,891.2 764.3,888.8 772.7,887.5 781.1,887.8 789.4,900.3 797.8,900.5 806.2,891.7 814.6,891.7 822.9,888.7 831.3,884.2 839.7,890.8 848.1,892.5 856.5,880.8 864.8,886.3 873.2,886.3 881.6,884.5 890,882.5 898.4,873.7 906.7,874.2 915.1,882.5 923.5,887 931.9,887.2 940.3,885.3 948.6,881.3 957,881.7 965.4,878.8 973.8,875.5 982.1,880.8 990.5,880.8 998.9,878 1007.3,871.2 1015.7,873.3 1024,866.2 1032.4,877.8 1040.8,879.2 1049.2,879.2 1057.6,876.7 1065.9,865.3 1074.3,874.2 1082.7,878.8 1091.1,891.7 1099.5,900.8 1107.8,900.8 1116.2,896.3 1124.6,893.7 1133,894.5 1141.4,890.5 1149.7,886.3 1158.1,880.3 1166.5,880.3 1174.9,875 1183.2,859.2 1191.6,847.5 1200,839.2 1208.4,831.3 1216.8,837.8 1225.1,837.8 1233.5,835 1241.9,830.3 1250.3,828.8 1258.7,828 1267,825.5 1275.4,830.8 1283.8,830.8 1292.2,830.8 1300.6,821.3 1308.9,822 1317.3,822 1325.7,830.8 1334.1,833.3 1342.4,833.7 1350.8,832.2 1359.2,817.5 1367.6,820.8 1376,833.3 1384.3,829.5 1392.7,840.3 1401.1,838.3 1409.5,833.3 1417.9,833.3 1426.2,828.3 1434.6,825.3 1443,825.5 1451.4,832.2 1459.8,831.2 1468.1,831.2 1476.5,823.3 1484.9,823.7 1493.3,819.7 1501.6,819.7 1510,832.2 1518.4,827.6 1526.8,858.7 1535.2,851 1543.5,871.3 1551.9,883.5 1560.3,883.5 1568.7,893 1577.1,894.2 1585.4,890.5 1593.8,888.3 1602.2,880 1610.6,874.2 1619,874.2 1627.3,878.3 1635.7,877.5 1644.1,877.5"/>
<polyline fill="none" stroke="#1f9ce4" stroke-width="3" stroke-linejoin="round" points="144.2,972.5 152.6,970.8 161,969.5 169.4,969.5 177.8,967.2 186.1,959.7 194.5,961.7 202.9,965.8 211.3,963.3 219.7,968.3 228,968.3 236.4,967.5 244.8,967.5 253.2,960.3 261.6,961.7 269.9,963.7 278.3,962.2 286.7,962.2 295.1,962 303.5,959.7 311.8,957.8 320.2,957.5 328.6,953 337,961.3 345.3,961.3 353.7,959.7 362.1,960.3 370.5,960.5 378.9,953.3 387.2,944.2 395.6,950.5 404,950.5 412.4,948 420.8,949.2 429.1,954.2 437.5,953.3 445.9,949.7 454.3,953 462.7,953 471,953 479.4,952.5 487.8,948.3 496.2,950.3 504.5,949.5 512.9,951.7 521.3,951.7 529.7,951.7 538.1,948.3 546.4,946.3 554.8,956.7 563.2,957 571.6,963.8 580,963.8 588.3,962 596.7,959.5 605.1,953 613.5,952.5 621.9,957.5 630.2,959.5 638.6,959.5 647,956.2 655.4,949.2 663.7,959.2 672.1,959.2 680.5,955.3 688.9,961.3 697.3,961.3 705.6,960.5 714,960.7 722.4,961.7 730.8,957.8 739.2,959.5 747.5,963.3 755.9,963 764.3,961.7 772.7,960.3 781.1,961.2 789.4,957.8 797.8,956.2 806.2,971.3 814.6,971.3 822.9,968 831.3,957.5 839.7,959.5 848.1,957.5 856.5,960 864.8,965 873.2,965.3 881.6,964.7 890,957.2 898.4,964.2 906.7,962 915.1,959.7 923.5,962.2 931.9,962.2 940.3,961.3 948.6,956.2 957,956.2 965.4,958.3 973.8,956.7 982.1,961.3 990.5,961.3 998.9,960.7 1007.3,959.7 1015.7,959.7 1024,962.5 1032.4,964.7 1040.8,967.5 1049.2,967.5 1057.6,966.2 1065.9,963.7 1074.3,964.5 1082.7,957 1091.1,953.7 1099.5,958.7 1107.8,958.7 1116.2,956.7 1124.6,949.5 1133,949.5 1141.4,950.3 1149.7,953 1158.1,965.5 1166.5,965.5 1174.9,963.7 1183.2,961.3 1191.6,966.7 1200,974.7 1208.4,970.3 1216.8,974.5 1225.1,974.7 1233.5,974.2 1241.9,967.2 1250.3,964.7 1258.7,967.2 1267,969.5 1275.4,970.3 1283.8,969.5 1292.2,969.7 1300.6,968.8 1308.9,966.7 1317.3,966.3 1325.7,969.7 1334.1,973.3 1342.4,973.3 1350.8,972.5 1359.2,970.5 1367.6,968.8 1376,967.5 1384.3,965.8 1392.7,972.5 1401.1,971.3 1409.5,966.7 1417.9,966.7 1426.2,968.7 1434.6,966.3 1443,966.3 1451.4,972.8 1459.8,972 1468.1,972 1476.5,970.3 1484.9,968.7 1493.3,966.7 1501.6,966.7 1510,973.8 1518.4,972.5 1526.8,962.2 1535.2,957.5 1543.5,965 1551.9,951.2 1560.3,951.2 1568.7,949.5 1577.1,945.5 1585.4,942.8 1593.8,946.3 1602.2,945.8 1610.6,954.2 1619,954.2 1627.3,956.2 1635.7,955 1644.1,955"/>
<g stroke="#929292" stroke-width="2" fill="none">
<path d="M1665 807 H1654 V977 H1665"/>
<path d="M1654 971.3 H1665"/>
<path d="M1654 940.9 H1665"/>
<path d="M1654 910.6 H1665"/>
<path d="M1654 880.2 H1665"/>
<path d="M1654 849.9 H1665"/>
<path d="M1654 819.5 H1665"/>
<path d="M271 975 V988"/>
<path d="M531 975 V988"/>
<path d="M791 975 V988"/>
<path d="M1034 975 V988"/>
<path d="M1293.2 975 V988"/>
<path d="M1544.9 975 V988"/>
</g>
<text x="1672.7" y="978.7" font-size="23.7" font-weight="normal" fill="#2c3a4b" textLength="33.9" lengthAdjust="spacingAndGlyphs" stroke="#2c3a4b" stroke-width="0.3">500</text>
<text x="1671.9" y="948.3" font-size="23.7" font-weight="normal" fill="#2c3a4b" textLength="46.4" lengthAdjust="spacingAndGlyphs" stroke="#2c3a4b" stroke-width="0.3">1000</text>
<text x="1671.9" y="918" font-size="23.7" font-weight="normal" fill="#2c3a4b" textLength="46.4" lengthAdjust="spacingAndGlyphs" stroke="#2c3a4b" stroke-width="0.3">1500</text>
<text x="1671.7" y="887.6" font-size="23.7" font-weight="normal" fill="#2c3a4b" textLength="46.7" lengthAdjust="spacingAndGlyphs" stroke="#2c3a4b" stroke-width="0.3">2000</text>
<text x="1671.7" y="857.3" font-size="23.7" font-weight="normal" fill="#2c3a4b" textLength="46.7" lengthAdjust="spacingAndGlyphs" stroke="#2c3a4b" stroke-width="0.3">2500</text>
<text x="1672" y="826.9" font-size="23.7" font-weight="normal" fill="#2c3a4b" textLength="46.4" lengthAdjust="spacingAndGlyphs" stroke="#2c3a4b" stroke-width="0.3">3000</text>
<text transform="translate(278.2,1117.9) rotate(-90)" font-size="23.7" font-weight="normal" fill="#2c3a4b" textLength="119" lengthAdjust="spacingAndGlyphs" stroke="#2c3a4b" stroke-width="0.3">2023-Dec-01</text>
<text transform="translate(538.2,1116.1) rotate(-90)" font-size="23.7" font-weight="normal" fill="#2c3a4b" textLength="117.2" lengthAdjust="spacingAndGlyphs" stroke="#2c3a4b" stroke-width="0.3">2024-Jan-01</text>
<text transform="translate(798.2,1116.2) rotate(-90)" font-size="23.7" font-weight="normal" fill="#2c3a4b" textLength="117.3" lengthAdjust="spacingAndGlyphs" stroke="#2c3a4b" stroke-width="0.3">2024-Feb-01</text>
<text transform="translate(1041.2,1118) rotate(-90)" font-size="23.7" font-weight="normal" fill="#2c3a4b" textLength="119.1" lengthAdjust="spacingAndGlyphs" stroke="#2c3a4b" stroke-width="0.3">2024-Mar-01</text>
<text transform="translate(1300.4,1114.1) rotate(-90)" font-size="23.7" font-weight="normal" fill="#2c3a4b" textLength="115.2" lengthAdjust="spacingAndGlyphs" stroke="#2c3a4b" stroke-width="0.3">2024-Apr-01</text>
<text transform="translate(1552.1,1120) rotate(-90)" font-size="23.7" font-weight="normal" fill="#2c3a4b" textLength="121.1" lengthAdjust="spacingAndGlyphs" stroke="#2c3a4b" stroke-width="0.3">2024-May-01</text>
<g class="wm" style="font-weight:bold;font-style:italic">
<text x="1547.5" y="1156" font-size="57" fill="#7d7d7d" stroke="#7d7d7d" stroke-width="2.4" opacity="0.7" textLength="242" lengthAdjust="spacingAndGlyphs" transform="translate(2,2)" style="filter:blur(0.8px)">海马财经</text>
<text x="1547.5" y="1156" font-size="57" fill="#fff" stroke="#fff" stroke-width="2.4" textLength="242" lengthAdjust="spacingAndGlyphs">海马财经</text>
<text x="1566" y="1194.5" font-size="32" fill="#8e8e8e" stroke="#8e8e8e" stroke-width="1.4" opacity="0.7" textLength="223" lengthAdjust="spacing" transform="translate(1.6,1.6)" style="filter:blur(0.7px)">zzrt01.cn</text>
<text x="1566" y="1194.5" font-size="32" fill="#7cc3ee" stroke="#7cc3ee" stroke-width="1.4" textLength="223" lengthAdjust="spacing">zzrt01.cn</text>
</g>
</svg></body></html>
